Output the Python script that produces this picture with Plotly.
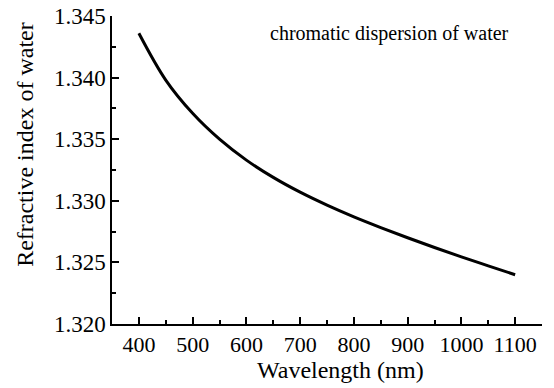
import plotly.graph_objects as go

wavelength_nm = [400, 450, 500, 550, 600, 650, 700, 750, 800, 850, 900, 950, 1000, 1050, 1100]
refractive_index = [1.3436, 1.3398, 1.3371, 1.3350, 1.3333, 1.3319, 1.3307, 1.32965, 1.3287,
                    1.32783, 1.3270, 1.32621, 1.32545, 1.32472, 1.3240]
x_tick_vals = [400, 500, 600, 700, 800, 900, 1000, 1100]
y_tick_vals = [1.320, 1.325, 1.330, 1.335, 1.340, 1.345]
y_tick_text = ["1.320", "1.325", "1.330", "1.335", "1.340", "1.345"]

FONT = "Liberation Serif"

fig = go.Figure()
fig.add_trace(go.Scatter(
    x=wavelength_nm, y=refractive_index, mode="lines",
    line=dict(color="black", width=3, shape="spline", smoothing=1.0),
    showlegend=False, hoverinfo="skip",
))

axis_common = dict(
    showline=True, linecolor="black", linewidth=1.5, mirror=False,
    ticks="inside", ticklen=7, tickwidth=1.5, tickcolor="black",
    showgrid=False, zeroline=False, automargin=False,
)

fig.update_layout(
    width=554, height=388,
    margin=dict(l=112, r=12, t=16, b=64),
    paper_bgcolor="white", plot_bgcolor="white",
    font=dict(family=FONT, color="black"),
    xaxis=dict(
        range=[350, 1150], tickvals=x_tick_vals,
        tickfont=dict(family=FONT, size=22, color="black"),
        minor=dict(ticks="inside", ticklen=4, tickwidth=1.5, tickcolor="black", dtick=50, tick0=350),
        **axis_common,
    ),
    yaxis=dict(
        range=[1.320, 1.345], tickvals=y_tick_vals, ticktext=y_tick_text,
        tickfont=dict(family=FONT, size=23, color="black"),
        minor=dict(ticks="inside", ticklen=4, tickwidth=1.5, tickcolor="black", dtick=0.0025, tick0=1.320),
        **axis_common,
    ),
    annotations=[
        dict(text="chromatic dispersion of water", xref="paper", yref="paper",
             x=0.6465, y=0.944, xanchor="center", yanchor="middle", showarrow=False,
             font=dict(family=FONT, size=20, color="black")),
        dict(text="Wavelength (nm)", xref="paper", yref="paper",
             x=0.531, y=-0.149, xanchor="center", yanchor="middle", showarrow=False,
             font=dict(family=FONT, size=24, color="black")),
        dict(text="Refractive index of water", xref="paper", yref="paper",
             x=-0.203, y=0.584, xanchor="center", yanchor="middle", showarrow=False,
             textangle=-90, font=dict(family=FONT, size=24, color="black")),
    ],
)

fig.write_html("out.html", config={"displayModeBar": False},
               post_script="document.body.style.margin='0';")
